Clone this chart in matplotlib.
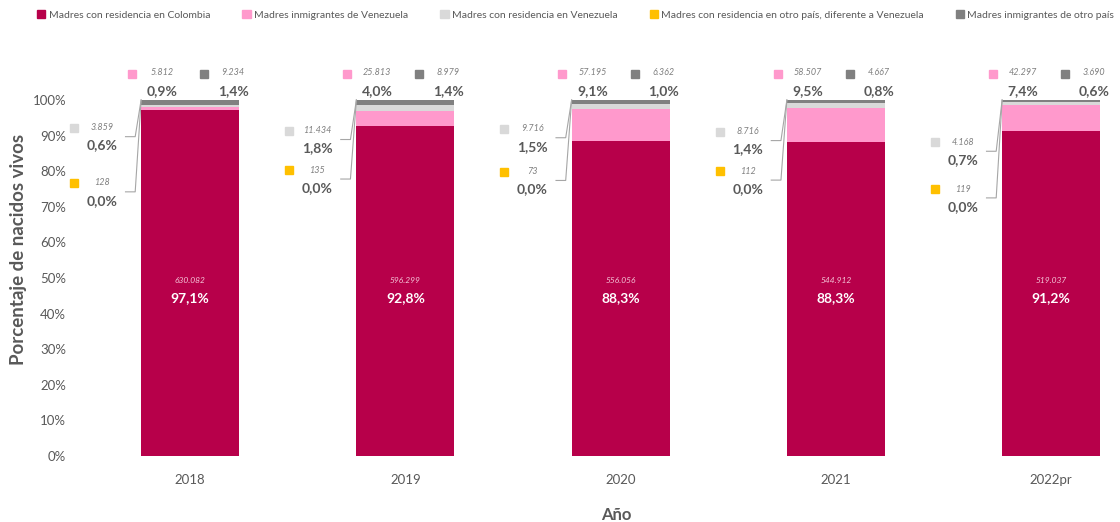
import matplotlib
matplotlib.use("Agg")
import matplotlib.pyplot as plt
from matplotlib.patches import Patch

plt.rcParams['font.family'] = ['Lato', 'DejaVu Sans']

#------------------------- Datos -------------------------
anios = ['2018', '2019', '2020', '2021', '2022pr']
series = ['Madres con residencia en Colombia',
          'Madres inmigrantes de Venezuela',
          'Madres con residencia en Venezuela',
          'Madres con residencia en otro país, diferente a Venezuela',
          'Madres inmigrantes de otro país']
colores = ['#B7004A', '#FF99CC', '#D9D9D9', '#FFC000', '#808080']

# nacidos vivos por grupo
res_colombia = [630082, 596299, 556056, 544912, 519037]
inm_venezuela = [5812, 25813, 57195, 58507, 42297]
res_venezuela = [3859, 11434, 9716, 8716, 4168]
res_otro = [128, 135, 73, 112, 119]
inm_otro = [9234, 8979, 6362, 4667, 3690]

grupos = [res_colombia, inm_venezuela, res_venezuela, res_otro, inm_otro]
totales = [sum(g[i] for g in grupos) for i in range(len(anios))]
pcts = [[100 * g[i] / totales[i] for i in range(len(anios))] for g in grupos]

# altura de las etiquetas de la izquierda (posicion)
y_gris = [92.2, 91.4, 91.9, 91.1, 88.1]
y_amar = [76.7, 80.3, 79.9, 80.0, 75.0]

GRIS_TXT = '#595959'
GRIS_NUM = '#7F7F7F'
ancho = 0.455


def fmt_n(n):
    return f"{n:,}".replace(",", ".")


def fmt_p(p):
    return f"{p:.1f}".replace(".", ",") + "%"


#------------------------- Grafica -------------------------
fig = plt.figure(figsize=(11.2, 5.22), dpi=100)
ax = fig.add_axes([76 / 1120, 66 / 522, 4.85 * 215.25 / 1120, 356 / 522])

x = list(range(len(anios)))
base = [0] * len(anios)
for k in range(len(grupos)):
    ax.bar(x, pcts[k], bottom=base, width=ancho, color=colores[k], linewidth=0)
    base = [b + v for b, v in zip(base, pcts[k])]

ax.set_xlim(-0.53, 4.32)
ax.set_ylim(0, 100)
ax.set_yticks(range(0, 101, 10))
ax.set_yticklabels([f"{v}%" for v in range(0, 101, 10)])
ax.set_xticks(x)
ax.set_xticklabels(anios)
ax.tick_params(axis='y', length=0, pad=7, labelsize=9.5, labelcolor=GRIS_TXT)
ax.tick_params(axis='x', length=0, pad=13, labelsize=9.5, labelcolor=GRIS_TXT)
for s in ax.spines.values():
    s.set_visible(False)

ax.set_xlabel('Año', fontsize=12, fontweight='bold', color=GRIS_TXT, va='center')
ax.xaxis.set_label_coords(0.518, -0.166)
ax.set_ylabel('Porcentaje de nacidos vivos', fontsize=13.5, fontweight='bold',
              color=GRIS_TXT, va='center')
ax.yaxis.set_label_coords(-0.055, 0.58)

for i in x:
    # dentro de la barra
    ax.text(i, 49.3, fmt_n(res_colombia[i]), ha='center', va='center',
            fontsize=6, style='italic', color='#F4C6D8')
    ax.text(i, 44.3, fmt_p(pcts[0][i]), ha='center', va='center',
            fontsize=10, fontweight='bold', color='white')

    # arriba: inmigrantes de Venezuela y de otro pais
    for k, dx_sq, dx_t in [(1, -0.27, -0.13), (4, 0.065, 0.20)]:
        ax.plot(i + dx_sq, 107.4, marker='s', ms=6, color=colores[k],
                linestyle='none', clip_on=False)
        ax.text(i + dx_t, 107.6, fmt_n(grupos[k][i]), ha='center', va='center',
                fontsize=6.5, style='italic', color=GRIS_NUM, clip_on=False)
        ax.text(i + dx_t, 102.6, fmt_p(pcts[k][i]), ha='center', va='center',
                fontsize=10, fontweight='bold', color=GRIS_TXT, clip_on=False)

    # izquierda: residencia en Venezuela y en otro pais
    for k, yy in [(2, y_gris[i]), (3, y_amar[i])]:
        ax.plot(i - 0.54, yy, marker='s', ms=6, color=colores[k],
                linestyle='none', clip_on=False)
        ax.text(i - 0.41, yy, fmt_n(grupos[k][i]), ha='center', va='center',
                fontsize=6.5, style='italic', color=GRIS_NUM)
        ax.text(i - 0.41, yy - 5, fmt_p(pcts[k][i]), ha='center', va='center',
                fontsize=10, fontweight='bold', color=GRIS_TXT)
        ax.plot([i - 0.30, i - 0.255, i - ancho / 2], [yy - 2.5, yy - 2.5, 100],
                color='#A6A6A6', lw=0.8, clip_on=False)

handles = [Patch(color=c) for c in colores]
fig.legend(handles, series, loc='center', bbox_to_anchor=(0.514, 0.971), ncol=5,
           frameon=False, fontsize=7.5, handlelength=0.8, handleheight=0.8,
           handletextpad=0.3, columnspacing=3.1, labelcolor=GRIS_TXT)

plt.savefig('out.png', dpi=100)
